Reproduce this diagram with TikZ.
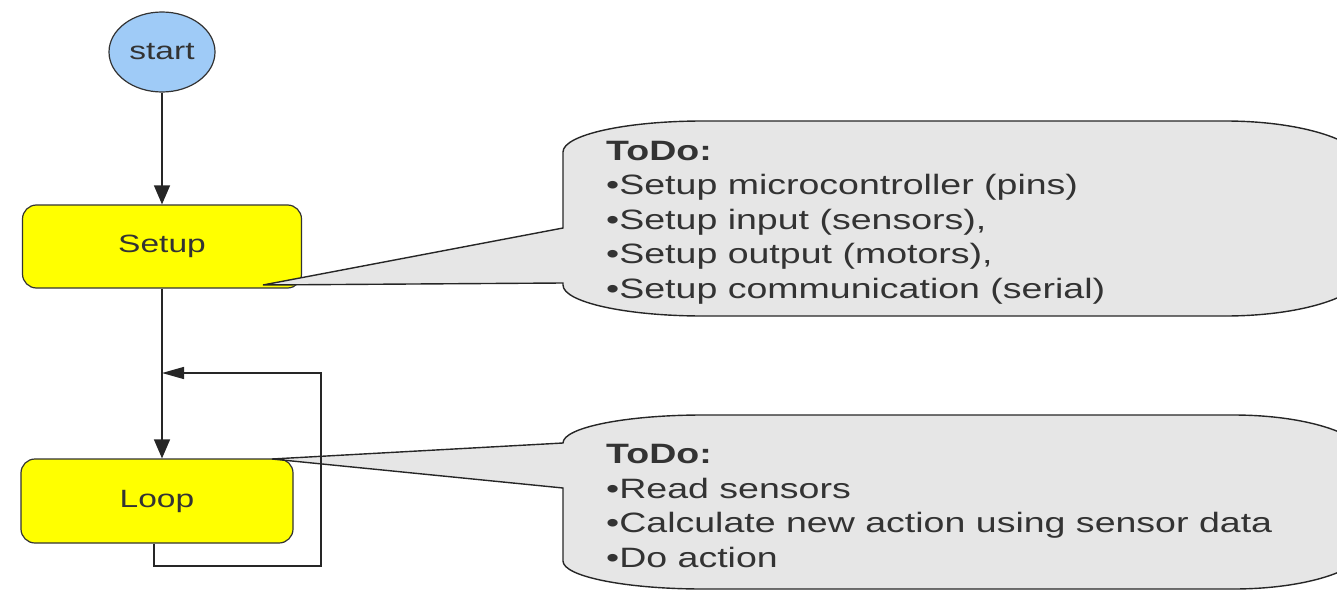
\documentclass[tikz,border=0pt]{standalone}
\usepackage{fontspec}
\newfontfamily\diafont[FakeStretch=1.34]{Liberation Sans}
\usetikzlibrary{arrows.meta,shapes.geometric}
\definecolor{inkgray}{HTML}{333333}
\definecolor{startblue}{HTML}{9FCBF7}
\definecolor{boxyellow}{HTML}{FFFF00}
\definecolor{notegray}{HTML}{E6E6E6}
\begin{document}
\begin{tikzpicture}[x=1pt,y=-1pt,
  stepfont/.style={font=\diafont\fontsize{25}{30}\selectfont, text=inkgray},
  startnode/.style={ellipse, draw=inkgray, line width=1.2pt, fill=startblue,
    minimum width=106pt, minimum height=80pt, inner sep=0pt, stepfont},
  stepbox/.style={rectangle, rounded corners=14pt, draw=inkgray, line width=1.2pt,
    fill=boxyellow, inner sep=0pt, stepfont},
  note/.style={draw=black!85, line width=1.4pt, fill=notegray},
  notetext/.style={align=left, inner sep=0pt, text=inkgray,
    font=\diafont\fontsize{28}{34.5}\selectfont},
  conn/.style={draw=black!85, line width=1.4pt},
  downtip/.style={-{Triangle[length=19pt,width=16pt]}},
  lefttip/.style={-{Triangle[length=22pt,width=12pt]}}]
\useasboundingbox (0,0) rectangle (1337,591);
\clip (0,0) rectangle (1337,591);

% flow nodes
\node[startnode] (start) at (162,52) {start};
\node[stepbox, minimum width=279pt, minimum height=83pt] (setup) at (162,246.5) {Setup};
\node[stepbox, minimum width=272pt, minimum height=84pt] (loop) at (157,501) {Loop};

% callout attached to Setup
\path[note] (563,283) -- (263,285) -- (563,228) -- (563,152)
  .. controls (563,134.9) and (625.7,121) .. (703,121) -- (1225,121)
  .. controls (1302.3,121) and (1365,141.1) .. (1365,166) -- (1365,271)
  .. controls (1365,295.9) and (1302.3,316) .. (1225,316) -- (703,316)
  .. controls (625.7,316) and (563,302.1) .. (563,285) -- cycle;
% the base anchor of a multi-line node sits on its last line
\node[notetext, anchor=base west] (note1) at (606,298)
  {{\bfseries ToDo:}\\
   •Setup microcontroller (pins)\\
   •Setup input (sensors),\\
   •Setup output (motors),\\
   •Setup communication (serial)};

% callout attached to Loop
\path[note] (563,488) -- (272,459) -- (563,443)
  .. controls (563,427.5) and (625.7,415) .. (703,415) -- (1233,415)
  .. controls (1308.6,415) and (1368,435.1) .. (1368,460) -- (1368,544)
  .. controls (1368,568.9) and (1308.6,589) .. (1233,589) -- (703,589)
  .. controls (625.7,589) and (563,576.5) .. (563,561) -- cycle;
\node[notetext, anchor=base west] (note2) at (606,567)
  {{\bfseries ToDo:}\\
   •Read sensors\\
   •Calculate new action using sensor data\\
   •Do action};

% connectors
\coordinate (fb1) at (154,566);
\coordinate (fb2) at (321,566);
\coordinate (fb3) at (321,373);
\draw[conn, downtip] (start) -- (start |- setup.north);
\draw[conn, downtip] (setup.south) -- (setup.south |- loop.north);
\draw[conn, lefttip] (fb1 |- loop.south) -- (fb1) -- (fb2) -- (fb3) -- (setup.south |- fb3);
\end{tikzpicture}
\end{document}
